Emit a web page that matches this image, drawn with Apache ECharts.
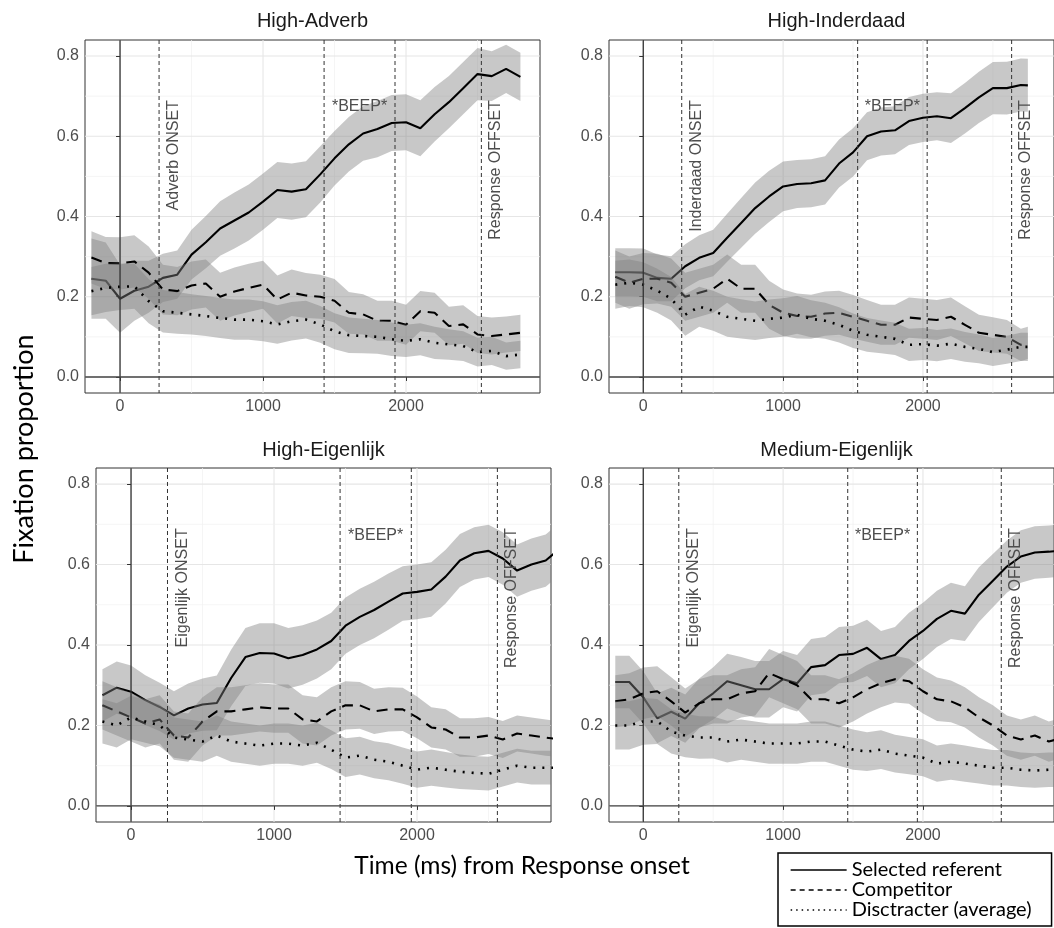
<!DOCTYPE html>
<html>
<head>
<meta charset="utf-8">
<script src="https://cdn.jsdelivr.net/npm/echarts@6/dist/echarts.min.js"></script>
<style>
  html, body { margin: 0; padding: 0; background: #fff; }
  #chart { width: 1054px; height: 928px; }
</style>
</head>
<body>
<div id="chart"></div>
<script>
// time points, ms from response onset
const timesTop = [-200,-100,0,100,200,300,400,500,600,700,800,900,1000,1100,1200,1300,1400,1500,1600,1700,1800,1900,2000,2100,2200,2300,2400,2500,2600,2700,2800];
const timesInderdaad = [-200,-100,0,100,200,300,400,500,600,700,800,900,1000,1100,1200,1300,1400,1500,1600,1700,1800,1900,2000,2100,2200,2300,2400,2500,2600,2700,2750];
const timesBottom = [-200,-100,0,100,200,300,400,500,600,700,800,900,1000,1100,1200,1300,1400,1500,1600,1700,1800,1900,2000,2100,2200,2300,2400,2500,2600,2700,2800,2900,3000];

// axis ticks
const xTicks = [0, 1000, 2000];
const xMinor = [500, 1500, 2500];
const yTicks = [0, 0.2, 0.4, 0.6, 0.8];
const yMinor = [0.1, 0.3, 0.5, 0.7];

// High-Adverb
const adverbSel  = [0.245,0.24,0.195,0.215,0.225,0.247,0.255,0.305,0.336,0.37,0.39,0.41,0.437,0.466,0.462,0.468,0.505,0.545,0.58,0.607,0.618,0.633,0.635,0.62,0.655,0.685,0.72,0.755,0.75,0.768,0.748];
const adverbComp = [0.298,0.284,0.283,0.288,0.26,0.218,0.214,0.228,0.233,0.2,0.213,0.222,0.23,0.193,0.21,0.203,0.2,0.19,0.16,0.156,0.14,0.14,0.13,0.164,0.16,0.127,0.131,0.106,0.102,0.106,0.11];
const adverbDist = [0.214,0.222,0.225,0.226,0.189,0.164,0.16,0.156,0.152,0.147,0.143,0.143,0.139,0.131,0.139,0.143,0.131,0.114,0.104,0.102,0.1,0.094,0.09,0.094,0.085,0.081,0.077,0.062,0.065,0.052,0.056];
const adverbSelHw  = [0.1,0.095,0.085,0.075,0.065,0.06,0.06,0.062,0.065,0.068,0.07,0.07,0.07,0.07,0.07,0.07,0.07,0.068,0.068,0.068,0.07,0.07,0.07,0.07,0.068,0.065,0.065,0.065,0.062,0.06,0.06];
const adverbCompHw = [0.065,0.065,0.065,0.065,0.065,0.062,0.06,0.06,0.06,0.06,0.06,0.06,0.06,0.06,0.058,0.056,0.055,0.054,0.052,0.05,0.05,0.05,0.05,0.05,0.05,0.048,0.048,0.046,0.046,0.045,0.045];
const adverbDistHw = [0.06,0.06,0.058,0.056,0.055,0.053,0.052,0.05,0.05,0.05,0.05,0.05,0.05,0.048,0.048,0.047,0.046,0.045,0.044,0.043,0.042,0.042,0.04,0.04,0.04,0.038,0.037,0.036,0.035,0.034,0.034];
const adverbMarks = [273, 1427, 1923, 2527];

// High-Inderdaad
const inderdaadSel  = [0.261,0.261,0.26,0.247,0.245,0.276,0.297,0.309,0.347,0.384,0.421,0.45,0.475,0.481,0.483,0.49,0.532,0.56,0.6,0.612,0.615,0.638,0.646,0.65,0.645,0.67,0.697,0.72,0.72,0.728,0.727];
const inderdaadComp = [0.25,0.235,0.245,0.245,0.235,0.2,0.21,0.22,0.245,0.22,0.22,0.18,0.16,0.152,0.15,0.158,0.16,0.15,0.14,0.13,0.13,0.148,0.145,0.142,0.15,0.13,0.11,0.105,0.1,0.08,0.085];
const inderdaadDist = [0.23,0.235,0.23,0.215,0.195,0.155,0.175,0.165,0.15,0.145,0.14,0.145,0.148,0.155,0.145,0.14,0.13,0.115,0.105,0.1,0.095,0.08,0.082,0.078,0.083,0.075,0.07,0.062,0.068,0.075,0.075];
const inderdaadSelHw  = [0.06,0.06,0.06,0.058,0.056,0.055,0.056,0.058,0.06,0.062,0.064,0.064,0.062,0.06,0.06,0.06,0.06,0.06,0.06,0.06,0.06,0.06,0.06,0.06,0.062,0.063,0.064,0.065,0.066,0.066,0.066];
const inderdaadCompHw = [0.065,0.065,0.064,0.062,0.06,0.06,0.06,0.06,0.06,0.06,0.06,0.06,0.058,0.056,0.055,0.055,0.055,0.054,0.052,0.05,0.05,0.05,0.05,0.05,0.048,0.046,0.045,0.044,0.042,0.04,0.04];
const inderdaadDistHw = [0.06,0.058,0.056,0.055,0.054,0.052,0.05,0.05,0.05,0.049,0.048,0.048,0.048,0.047,0.046,0.045,0.044,0.043,0.042,0.041,0.04,0.04,0.04,0.039,0.038,0.037,0.036,0.035,0.035,0.035,0.035];
const inderdaadMarks = [275, 1533, 2030, 2634];

// High-Eigenlijk
const eigHighSel  = [0.275,0.294,0.284,0.263,0.246,0.225,0.242,0.252,0.256,0.318,0.37,0.38,0.379,0.367,0.375,0.389,0.41,0.448,0.47,0.487,0.508,0.528,0.532,0.538,0.57,0.61,0.628,0.634,0.615,0.585,0.6,0.61,0.64];
const eigHighComp = [0.25,0.235,0.22,0.205,0.215,0.175,0.17,0.21,0.235,0.235,0.24,0.245,0.242,0.242,0.215,0.21,0.235,0.25,0.25,0.235,0.24,0.24,0.22,0.195,0.19,0.17,0.17,0.175,0.165,0.18,0.175,0.17,0.165];
const eigHighDist = [0.21,0.2,0.22,0.21,0.2,0.17,0.165,0.16,0.175,0.16,0.155,0.15,0.155,0.155,0.15,0.157,0.14,0.12,0.125,0.115,0.11,0.1,0.09,0.095,0.09,0.085,0.082,0.08,0.09,0.1,0.095,0.095,0.095];
const eigHighSelHw  = [0.065,0.065,0.065,0.062,0.06,0.06,0.062,0.065,0.068,0.07,0.072,0.074,0.075,0.075,0.074,0.072,0.07,0.07,0.07,0.07,0.07,0.068,0.068,0.068,0.067,0.066,0.065,0.065,0.065,0.065,0.065,0.065,0.065];
const eigHighCompHw = [0.06,0.06,0.06,0.06,0.06,0.06,0.06,0.06,0.06,0.06,0.06,0.06,0.06,0.06,0.06,0.06,0.06,0.06,0.058,0.056,0.055,0.054,0.052,0.05,0.05,0.048,0.048,0.046,0.046,0.045,0.045,0.045,0.045];
const eigHighDistHw = [0.055,0.055,0.054,0.053,0.052,0.05,0.05,0.05,0.05,0.05,0.05,0.05,0.05,0.05,0.05,0.05,0.048,0.048,0.047,0.046,0.046,0.045,0.045,0.045,0.044,0.043,0.042,0.042,0.042,0.042,0.042,0.042,0.042];
const eigHighMarks = [255, 1462, 1960, 2562];

// Medium-Eigenlijk
const eigMedSel  = [0.308,0.308,0.27,0.218,0.234,0.217,0.255,0.28,0.31,0.3,0.29,0.29,0.315,0.305,0.345,0.35,0.375,0.378,0.393,0.365,0.375,0.41,0.435,0.465,0.485,0.478,0.525,0.56,0.595,0.62,0.63,0.632,0.635];
const eigMedComp = [0.26,0.265,0.28,0.285,0.26,0.232,0.255,0.265,0.265,0.28,0.285,0.33,0.315,0.3,0.265,0.265,0.255,0.27,0.29,0.305,0.315,0.31,0.285,0.265,0.26,0.245,0.22,0.2,0.175,0.165,0.175,0.16,0.17];
const eigMedDist = [0.2,0.2,0.21,0.21,0.185,0.175,0.17,0.17,0.16,0.165,0.16,0.155,0.155,0.155,0.16,0.16,0.15,0.14,0.135,0.14,0.13,0.125,0.12,0.105,0.11,0.105,0.1,0.095,0.095,0.09,0.088,0.09,0.09];
const eigMedSelHw  = [0.065,0.065,0.065,0.062,0.06,0.06,0.062,0.065,0.068,0.07,0.07,0.07,0.07,0.07,0.07,0.07,0.07,0.07,0.07,0.07,0.07,0.07,0.07,0.07,0.07,0.068,0.068,0.066,0.065,0.065,0.065,0.065,0.065];
const eigMedCompHw = [0.065,0.065,0.064,0.062,0.06,0.06,0.06,0.06,0.06,0.06,0.06,0.06,0.06,0.06,0.06,0.06,0.06,0.06,0.06,0.06,0.058,0.056,0.055,0.054,0.052,0.05,0.05,0.05,0.05,0.05,0.05,0.05,0.05];
const eigMedDistHw = [0.06,0.06,0.058,0.056,0.055,0.054,0.053,0.052,0.052,0.05,0.05,0.05,0.05,0.05,0.05,0.05,0.05,0.05,0.048,0.048,0.047,0.046,0.046,0.045,0.045,0.045,0.044,0.044,0.044,0.043,0.043,0.043,0.043];
const eigMedMarks = [254, 1462, 1960, 2560];

const seriesNames = ['Selected referent', 'Competitor', 'Disctracter (average)'];

const panels = [
  { title: 'High-Adverb', onset: 'Adverb ONSET', grid: { left: 85, top: 40, width: 455, height: 353 }, titleY: 21,
    times: timesTop, means: [adverbSel, adverbComp, adverbDist], hws: [adverbSelHw, adverbCompHw, adverbDistHw], marks: adverbMarks },
  { title: 'High-Inderdaad', onset: 'Inderdaad ONSET', grid: { left: 609, top: 40, width: 455, height: 353 }, titleY: 21,
    times: timesInderdaad, means: [inderdaadSel, inderdaadComp, inderdaadDist], hws: [inderdaadSelHw, inderdaadCompHw, inderdaadDistHw], marks: inderdaadMarks },
  { title: 'High-Eigenlijk', onset: 'Eigenlijk ONSET', grid: { left: 96, top: 468, width: 455, height: 354 }, titleY: 450,
    times: timesBottom, means: [eigHighSel, eigHighComp, eigHighDist], hws: [eigHighSelHw, eigHighCompHw, eigHighDistHw], marks: eigHighMarks },
  { title: 'Medium-Eigenlijk', onset: 'Eigenlijk ONSET', grid: { left: 609, top: 468, width: 455, height: 354 }, titleY: 450,
    times: timesBottom, means: [eigMedSel, eigMedComp, eigMedDist], hws: [eigMedSelHw, eigMedCompHw, eigMedDistHw], marks: eigMedMarks }
];

const lineStyles = [
  { color: '#000', width: 2.1, type: 'solid' },
  { color: '#000', width: 2.1, type: [11, 7] },
  { color: '#000', width: 2.6, type: [2, 7] }
];
const bandColor = 'rgba(128,128,128,0.43)';
const tickFont = 'Liberation Sans';

const grids = [], xAxes = [], yAxes = [], series = [], graphics = [];

panels.forEach(function (p, i) {
  grids.push(Object.assign({ show: true, borderColor: '#333', borderWidth: 1, backgroundColor: 'transparent' }, p.grid));
  xAxes.push({
    type: 'value', gridIndex: i, min: -245, max: 2937,
    axisLine: { show: false },
    axisTick: { show: true, length: 4, customValues: xTicks, lineStyle: { color: '#333' } },
    axisLabel: { customValues: xTicks, color: '#4d4d4d', fontSize: 16, fontFamily: tickFont, margin: 6,
      formatter: function (v) { return String(v); } },
    splitLine: { show: false }
  });
  yAxes.push({
    type: 'value', gridIndex: i, min: -0.04, max: 0.84,
    axisLine: { show: false },
    axisTick: { show: true, length: 4, customValues: yTicks, lineStyle: { color: '#333' } },
    axisLabel: { customValues: yTicks, color: '#4d4d4d', fontSize: 16, fontFamily: tickFont, margin: 6,
      formatter: function (v) { return v.toFixed(1); } },
    splitLine: { show: false }
  });

  // panel grid lines (theme_bw look)
  const gridSpecs = [];
  xTicks.forEach(v => gridSpecs.push([v, 0, 1]));
  xMinor.forEach(v => gridSpecs.push([v, 0, 0]));
  yTicks.forEach(v => gridSpecs.push([v, 1, 1]));
  yMinor.forEach(v => gridSpecs.push([v, 1, 0]));
  series.push({
    type: 'custom', xAxisIndex: i, yAxisIndex: i, z: 0, silent: true, clip: true,
    data: gridSpecs,
    renderItem: function (params, api) {
      const cs = params.coordSys;
      const v = api.value(0), horiz = api.value(1), major = api.value(2);
      let shape;
      if (horiz) {
        const y = api.coord([0, v])[1];
        shape = { x1: cs.x, y1: y, x2: cs.x + cs.width, y2: y };
      } else {
        const x = api.coord([v, 0])[0];
        shape = { x1: x, y1: cs.y, x2: x, y2: cs.y + cs.height };
      }
      return { type: 'line', shape: shape, style: { stroke: major ? '#e6e6e6' : '#f1f1f1', lineWidth: major ? 1.1 : 0.7 } };
    }
  });

  // ribbons and lines, one series kind after another
  for (let s = 0; s < 3; s++) {
    const mean = p.means[s], hw = p.hws[s];
    const rows = p.times.map((t, k) => [t, mean[k] - hw[k], mean[k] + hw[k]]);
    series.push({
      type: 'custom', xAxisIndex: i, yAxisIndex: i, z: 2 + s * 2, silent: true, clip: true,
      data: rows, encode: { x: 0, y: [1, 2] },
      renderItem: function (params, api) {
        if (params.dataIndex !== 0) return null;
        const upper = rows.map(r => api.coord([r[0], r[2]]));
        const lower = rows.map(r => api.coord([r[0], r[1]])).reverse();
        return { type: 'polygon', shape: { points: upper.concat(lower) }, style: { fill: bandColor } };
      }
    });
    series.push({
      type: 'line', name: seriesNames[s], xAxisIndex: i, yAxisIndex: i, z: 3 + s * 2,
      data: p.times.map((t, k) => [t, mean[k]]),
      symbol: 'none', showSymbol: false, silent: true, clip: true,
      itemStyle: { color: '#000' },
      lineStyle: lineStyles[s]
    });
  }

  // reference lines: 0 = solid vertical, 1 = dashed vertical, 2 = horizontal zero
  const refs = [[0, 0], [p.marks[0], 1], [p.marks[1], 1], [p.marks[2], 1], [p.marks[3], 1], [0, 2]];
  series.push({
    type: 'custom', xAxisIndex: i, yAxisIndex: i, z: 8, silent: true, clip: true,
    data: refs,
    renderItem: function (params, api) {
      const cs = params.coordSys;
      const v = api.value(0), kind = api.value(1);
      if (kind === 2) {
        const y = api.coord([0, 0])[1];
        return { type: 'line', shape: { x1: cs.x, y1: y, x2: cs.x + cs.width, y2: y }, style: { stroke: '#444', lineWidth: 1.4 } };
      }
      const x = api.coord([v, 0])[0];
      return { type: 'line', shape: { x1: x, y1: cs.y, x2: x, y2: cs.y + cs.height },
        style: kind === 0 ? { stroke: '#333', lineWidth: 1.3 } : { stroke: '#333', lineWidth: 1, lineDash: [4, 3] } };
    }
  });

  // annotations
  const annTexts = [p.onset, '*BEEP*', 'Response OFFSET'];
  const annData = [[p.marks[0] + 103, 0.69, 0], [(p.marks[1] + p.marks[2]) / 2, 0.673, 1], [p.marks[3] + 100, 0.69, 0]];
  series.push({
    type: 'custom', xAxisIndex: i, yAxisIndex: i, z: 9, silent: true, clip: false,
    data: annData,
    renderItem: function (params, api) {
      const pt = api.coord([api.value(0), api.value(1)]);
      const rotated = api.value(2) === 0;
      const al = rotated ? 'right' : 'center';
      return {
        type: 'text', x: pt[0], y: pt[1], rotation: rotated ? Math.PI / 2 : 0,
        style: { text: annTexts[params.dataIndex], font: '16px "Liberation Sans"', fill: '#4d4d4d',
          align: al, verticalAlign: 'middle', textAlign: al, textVerticalAlign: 'middle' }
      };
    }
  });

  graphics.push({
    type: 'text', x: p.grid.left + p.grid.width / 2, y: p.titleY,
    style: { text: p.title, font: '20px "Liberation Sans"', fill: '#1a1a1a',
      align: 'center', verticalAlign: 'middle', textAlign: 'center', textVerticalAlign: 'middle' }
  });
});

graphics.push({
  type: 'text', x: 522, y: 866,
  style: { text: 'Time (ms) from Response onset', font: '24.5px Lato', fill: '#000',
    align: 'center', verticalAlign: 'middle', textAlign: 'center', textVerticalAlign: 'middle' }
});
graphics.push({
  type: 'text', x: 24, y: 449, rotation: Math.PI / 2,
  style: { text: 'Fixation proportion', font: '27px Lato', fill: '#000',
    align: 'center', verticalAlign: 'middle', textAlign: 'center', textVerticalAlign: 'middle' }
});

const noSymbol = { color: 'rgba(0,0,0,0)', borderWidth: 0, opacity: 0 };

const chart = echarts.init(document.getElementById('chart'));
chart.setOption({
  animation: false,
  backgroundColor: '#fff',
  grid: grids,
  xAxis: xAxes,
  yAxis: yAxes,
  series: series,
  graphic: graphics,
  legend: {
    orient: 'vertical', left: 778, top: 853,
    padding: [7, 20, 6, 12], itemGap: 0, itemWidth: 56, itemHeight: 14,
    borderColor: '#000', borderWidth: 1.5, backgroundColor: '#fff',
    selectedMode: false,
    textStyle: { fontFamily: 'Lato', fontSize: 20, color: '#000' },
    data: [
      { name: seriesNames[0], itemStyle: noSymbol, lineStyle: { width: 1.3, type: 'solid' } },
      { name: seriesNames[1], itemStyle: noSymbol, lineStyle: { width: 1.3, type: [5, 4] } },
      { name: seriesNames[2], itemStyle: noSymbol, lineStyle: { width: 1.3, type: [1.5, 4] } }
    ]
  }
});
</script>
</body>
</html>
